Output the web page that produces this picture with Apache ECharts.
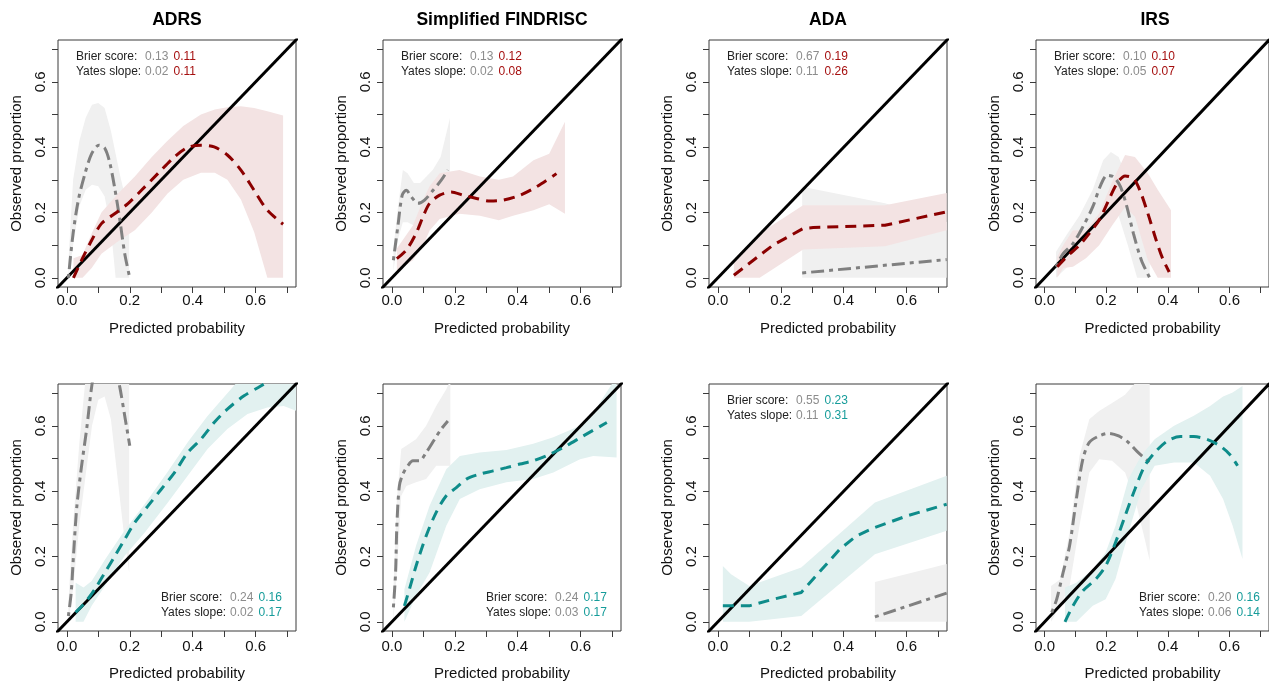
<!DOCTYPE html>
<html><head><meta charset="utf-8">
<script src="https://cdn.jsdelivr.net/npm/echarts@6/dist/echarts.min.js"></script>
<style>html,body{margin:0;padding:0;background:#fff}#c{width:1269px;height:685px}</style>
</head><body><div id="c"></div>
<script>
// ---------- data ----------
const panelTitles = ['ADRS', 'Simplified FINDRISC', 'ADA', 'IRS'];
const tickValues = [0, 0.1, 0.2, 0.3, 0.4, 0.5, 0.6, 0.7];
const labelValues = [0, 0.2, 0.4, 0.6];
const axisMin = -0.028, axisMax = 0.728;
const identityLine = [[-0.1, -0.1], [0.8, 0.8]];

const brierGray  = [0.13, 0.13, 0.67, 0.10, 0.24, 0.24, 0.55, 0.20];
const brierModel = [0.11, 0.12, 0.19, 0.10, 0.16, 0.17, 0.23, 0.16];
const yatesGray  = [0.02, 0.02, 0.11, 0.05, 0.02, 0.03, 0.11, 0.06];
const yatesModel = [0.11, 0.08, 0.26, 0.07, 0.17, 0.17, 0.31, 0.14];

// lines: [x, y]; bands: [x, lower, upper]
const p1GrayLine = [[0.005,0.0],[0.02,0.136],[0.037,0.24],[0.058,0.32],[0.079,0.38],[0.102,0.406],[0.121,0.396],[0.137,0.35],[0.153,0.27],[0.168,0.18],[0.184,0.074],[0.2,0.0]];
const p1GrayBand = [[0.005,0,0.05],[0.02,0.1,0.3],[0.04,0.22,0.42],[0.06,0.27,0.49],[0.08,0.285,0.53],[0.1,0.28,0.535],[0.12,0.25,0.52],[0.14,0.15,0.45],[0.155,0.0,0.38],[0.17,0,0.31],[0.185,0,0.25],[0.198,0,0.2]];
const p1ModelLine = [[0.021,0.0],[0.047,0.054],[0.079,0.115],[0.11,0.166],[0.153,0.197],[0.195,0.228],[0.237,0.268],[0.289,0.319],[0.342,0.37],[0.384,0.399],[0.426,0.406],[0.468,0.401],[0.51,0.376],[0.553,0.33],[0.595,0.268],[0.637,0.207],[0.687,0.164]];
const p1ModelBand = [[0.021,0,0.06],[0.05,0.0,0.07],[0.079,0.03,0.136],[0.11,0.074,0.2],[0.16,0.11,0.255],[0.216,0.146,0.31],[0.27,0.2,0.37],[0.32,0.258,0.42],[0.37,0.3,0.465],[0.426,0.322,0.5],[0.47,0.322,0.515],[0.51,0.3,0.522],[0.553,0.24,0.525],[0.595,0.14,0.52],[0.637,0.0,0.51],[0.687,0,0.497]];

const p2GrayLine = [[0.005,0.054],[0.019,0.156],[0.033,0.253],[0.046,0.268],[0.062,0.248],[0.083,0.228],[0.104,0.238],[0.131,0.268],[0.157,0.299],[0.178,0.33]];
const p2GrayBand = [[0.005,0.02,0.09],[0.02,0.12,0.22],[0.035,0.17,0.33],[0.05,0.17,0.32],[0.07,0.16,0.29],[0.09,0.17,0.29],[0.11,0.19,0.31],[0.13,0.21,0.33],[0.155,0.22,0.37],[0.185,0.2,0.49]];
const p2ModelLine = [[0.016,0.059],[0.046,0.085],[0.077,0.136],[0.099,0.187],[0.12,0.228],[0.152,0.253],[0.189,0.263],[0.226,0.253],[0.269,0.243],[0.311,0.235],[0.354,0.238],[0.407,0.253],[0.46,0.279],[0.523,0.319]];
const p2ModelBand = [[0.016,0.02,0.09],[0.067,0.054,0.16],[0.1,0.1,0.24],[0.12,0.145,0.28],[0.152,0.18,0.32],[0.215,0.196,0.33],[0.28,0.19,0.31],[0.34,0.176,0.3],[0.385,0.19,0.31],[0.45,0.207,0.36],[0.5,0.225,0.38],[0.55,0.196,0.478]];

const p3GrayLine = [[0.268,0.015],[0.727,0.056]];
const p3GrayBand = [[0.268,0,0.279],[0.531,0,0.228],[0.727,0,0.171]];
const p3ModelLine = [[0.051,0.008],[0.175,0.1],[0.271,0.151],[0.303,0.154],[0.531,0.161],[0.727,0.202]];
const p3ModelBand = [[0.051,0,0.054],[0.133,0,0.136],[0.271,0.087,0.222],[0.531,0.097,0.222],[0.727,0.146,0.26]];

const p4GrayLine = [[0.037,0.034],[0.06,0.074],[0.092,0.105],[0.124,0.156],[0.156,0.217],[0.182,0.284],[0.203,0.314],[0.224,0.309],[0.246,0.279],[0.267,0.217],[0.288,0.136],[0.314,0.054],[0.341,0.0]];
const p4GrayBand = [[0.037,0,0.08],[0.07,0.03,0.13],[0.113,0.065,0.19],[0.156,0.13,0.27],[0.19,0.19,0.36],[0.215,0.22,0.385],[0.24,0.19,0.37],[0.27,0.1,0.3],[0.3,0,0.2],[0.341,0,0.05]];
const p4ModelLine = [[0.041,0.034],[0.071,0.064],[0.113,0.1],[0.145,0.136],[0.177,0.177],[0.208,0.238],[0.235,0.289],[0.261,0.312],[0.288,0.304],[0.309,0.268],[0.335,0.197],[0.362,0.115],[0.383,0.059],[0.404,0.018]];
const p4ModelBand = [[0.041,0,0.064],[0.06,0.03,0.1],[0.092,0.034,0.146],[0.134,0.06,0.146],[0.177,0.1,0.197],[0.219,0.16,0.294],[0.261,0.217,0.376],[0.293,0.187,0.37],[0.335,0.054,0.32],[0.367,0,0.27],[0.41,0,0.207]];

const p5GrayLine = [[0.005,0.018],[0.014,0.09],[0.021,0.2],[0.032,0.355],[0.047,0.478],[0.063,0.59],[0.079,0.72],[0.1,0.84],[0.12,0.87],[0.14,0.84],[0.168,0.72],[0.184,0.63],[0.2,0.539]];
const p5GrayBand = [[0.005,0,0.06],[0.02,0.1,0.3],[0.04,0.3,0.55],[0.06,0.45,0.75],[0.08,0.6,0.95],[0.1,0.68,1],[0.12,0.69,1],[0.14,0.62,1],[0.16,0.45,1],[0.18,0.28,1],[0.198,0.15,1]];
const p5ModelLine = [[0.028,0.029],[0.058,0.059],[0.089,0.1],[0.121,0.151],[0.153,0.202],[0.184,0.253],[0.216,0.304],[0.258,0.355],[0.3,0.406],[0.342,0.457],[0.384,0.518],[0.426,0.559],[0.468,0.61],[0.51,0.651],[0.563,0.692],[0.616,0.722],[0.68,0.76],[0.73,0.78]];
const p5ModelBand = [[0.028,0,0.12],[0.053,0,0.105],[0.079,0.049,0.125],[0.121,0.11,0.19],[0.184,0.202,0.28],[0.247,0.273,0.36],[0.321,0.365,0.46],[0.384,0.447,0.55],[0.447,0.529,0.63],[0.51,0.59,0.7],[0.574,0.636,0.77],[0.637,0.656,0.82],[0.689,0.661,0.85],[0.729,0.646,0.87]];

const p6GrayLine = [[0.005,0.044],[0.012,0.151],[0.016,0.294],[0.024,0.416],[0.035,0.452],[0.051,0.478],[0.067,0.493],[0.088,0.493],[0.109,0.518],[0.136,0.559],[0.157,0.59],[0.178,0.615]];
const p6GrayBand = [[0.005,0,0.1],[0.016,0.15,0.376],[0.03,0.386,0.529],[0.046,0.416,0.539],[0.077,0.427,0.559],[0.109,0.437,0.6],[0.141,0.478,0.661],[0.173,0.478,0.712],[0.186,0.478,0.74]];
const p6ModelLine = [[0.04,0.049],[0.056,0.1],[0.077,0.171],[0.109,0.263],[0.141,0.335],[0.173,0.386],[0.205,0.411],[0.237,0.437],[0.279,0.452],[0.322,0.462],[0.364,0.472],[0.407,0.483],[0.449,0.493],[0.502,0.513],[0.555,0.539],[0.608,0.569],[0.683,0.61]];
const p6ModelBand = [[0.04,0,0.1],[0.077,0.08,0.233],[0.12,0.151,0.355],[0.173,0.294,0.467],[0.216,0.376,0.508],[0.279,0.406,0.518],[0.364,0.427,0.526],[0.449,0.437,0.545],[0.513,0.457,0.565],[0.598,0.498,0.6],[0.64,0.508,0.64],[0.714,0.503,0.75]];

const p7GrayLine = [[0.499,0.015],[0.727,0.088]];
const p7GrayBand = [[0.499,0,0.122],[0.727,0,0.177]];
const p7ModelLine = [[0.016,0.049],[0.1,0.049],[0.175,0.069],[0.265,0.09],[0.303,0.131],[0.387,0.222],[0.44,0.263],[0.499,0.289],[0.6,0.324],[0.727,0.36]];
const p7ModelBand = [[0.016,0,0.171],[0.042,0,0.146],[0.1,0,0.11],[0.265,0.018,0.166],[0.499,0.207,0.365],[0.727,0.279,0.447]];

const p8GrayLine = [[0.023,0.029],[0.039,0.069],[0.06,0.151],[0.081,0.233],[0.103,0.376],[0.124,0.498],[0.145,0.549],[0.177,0.569],[0.208,0.577],[0.24,0.569],[0.272,0.549],[0.304,0.518],[0.341,0.488]];
const p8GrayBand = [[0.021,0,0.11],[0.05,0.049,0.13],[0.081,0.11,0.273],[0.113,0.294,0.508],[0.145,0.457,0.62],[0.177,0.498,0.645],[0.219,0.493,0.67],[0.261,0.457,0.695],[0.293,0.376,0.73],[0.325,0.253,0.75],[0.341,0.187,0.76]];
const p8ModelLine = [[0.066,0],[0.092,0.049],[0.124,0.095],[0.166,0.131],[0.198,0.171],[0.23,0.243],[0.261,0.324],[0.293,0.406],[0.325,0.478],[0.357,0.518],[0.399,0.554],[0.441,0.567],[0.484,0.567],[0.526,0.559],[0.568,0.539],[0.6,0.513],[0.626,0.478]];
const p8ModelBand = [[0.066,0,0.105],[0.103,0,0.12],[0.156,0.049,0.16],[0.198,0.069,0.212],[0.23,0.131,0.294],[0.272,0.273,0.437],[0.314,0.406,0.51],[0.357,0.478,0.559],[0.42,0.488,0.6],[0.484,0.488,0.631],[0.537,0.447,0.661],[0.579,0.376,0.69],[0.61,0.294,0.702],[0.642,0.192,0.722]];

const panels = [
  [p1GrayLine, p1GrayBand, p1ModelLine, p1ModelBand],
  [p2GrayLine, p2GrayBand, p2ModelLine, p2ModelBand],
  [p3GrayLine, p3GrayBand, p3ModelLine, p3ModelBand],
  [p4GrayLine, p4GrayBand, p4ModelLine, p4ModelBand],
  [p5GrayLine, p5GrayBand, p5ModelLine, p5ModelBand],
  [p6GrayLine, p6GrayBand, p6ModelLine, p6ModelBand],
  [p7GrayLine, p7GrayBand, p7ModelLine, p7ModelBand],
  [p8GrayLine, p8GrayBand, p8ModelLine, p8ModelBand]
];

// ---------- layout & style ----------
const colLeft = [58, 383, 709, 1036];
const rowTop = [40, 384];
const boxW = 238, boxH = 247;
const font = '"Liberation Sans", Arial, Helvetica, sans-serif';
const red = '#8B0000', redText = '#A50F0F', redBand = '#F3E3E3';
const teal = '#0E8C8A', tealText = '#169C9A', tealBand = '#E2F1F0';
const gray = '#808080', grayText = '#8C8C8C', grayBand = '#F0F0F0';

const grids = [], xAxes = [], yAxes = [], series = [], graphics = [];

function bandSeries(band, gi, color) {
  return {
    type: 'custom', xAxisIndex: gi, yAxisIndex: gi, clip: true, silent: true, z: 1,
    data: band,
    encode: { x: 0, y: [1, 2] },
    renderItem: function (params, api) {
      if (params.dataIndex !== 0) return null;
      const up = band.map(d => api.coord([d[0], d[2]]));
      const lo = band.slice().reverse().map(d => api.coord([d[0], d[1]]));
      return { type: 'polygon', shape: { points: up.concat(lo) }, style: { fill: color } };
    }
  };
}

for (let i = 0; i < 8; i++) {
  const r = Math.floor(i / 4), c = i % 4;
  const left = colLeft[c], top = rowTop[r];
  const isTop = r === 0;
  const mColor = isTop ? red : teal, mText = isTop ? redText : tealText, mBand = isTop ? redBand : tealBand;
  const smooth = (c === 2) ? false : 0.3;

  grids.push({ left: left, top: top, width: boxW, height: boxH, show: true,
    borderColor: '#3a3a3a', borderWidth: 1, backgroundColor: 'transparent' });

  const common = {
    type: 'value', gridIndex: i, min: axisMin, max: axisMax,
    axisLine: { show: false, onZero: false },
    splitLine: { show: false },
    axisTick: { show: true, inside: false, length: 6, lineStyle: { color: '#3a3a3a', width: 1 }, customValues: tickValues },
    nameLocation: 'middle',
    nameTextStyle: { fontSize: 15, fontFamily: font, color: '#111' }
  };
  xAxes.push(Object.assign({}, common, {
    name: 'Predicted probability', nameGap: isTop ? 34 : 35,
    axisLabel: { customValues: labelValues, formatter: v => v.toFixed(1), color: '#111', fontSize: 15, fontFamily: font, margin: isTop ? 6 : 8 }
  }));
  yAxes.push(Object.assign({}, common, {
    name: 'Observed proportion', nameGap: 34,
    axisLabel: { customValues: labelValues, formatter: v => v.toFixed(1), color: '#111', fontSize: 15, fontFamily: font, margin: 10, rotate: 90 }
  }));

  const [gLine, gBand, mLine, mBandData] = panels[i];
  series.push(bandSeries(gBand, i, grayBand));
  series.push(bandSeries(mBandData, i, mBand));
  series.push({ type: 'line', xAxisIndex: i, yAxisIndex: i, data: identityLine, symbol: 'none',
    lineStyle: { color: '#000', width: 3 }, silent: true, z: 2, clip: true });
  series.push({ type: 'line', xAxisIndex: i, yAxisIndex: i, data: gLine, symbol: 'none', smooth: smooth,
    lineStyle: { color: gray, width: 3, type: [4, 5, 13, 5] }, silent: true, z: 3, clip: true });
  series.push({ type: 'line', xAxisIndex: i, yAxisIndex: i, data: mLine, symbol: 'none', smooth: smooth,
    lineStyle: { color: mColor, width: 3, type: [11, 7] }, silent: true, z: 4, clip: true });

  if (isTop) {
    graphics.push({ type: 'text', x: left + boxW / 2, y: 20.5,
      style: { text: panelTitles[c], font: 'bold 17.5px ' + font, fill: '#000', textAlign: 'center', textVerticalAlign: 'middle' } });
  }
  // annotation
  const annTopLeft = isTop || c === 2;
  const ax = annTopLeft ? left + 18 : left + 103;
  const ay = annTopLeft ? top + 16.7 : top + 213.7;
  const rich = { l: { width: 69, fill: '#222', font: '12px ' + font },
                 g: { width: 28.5, fill: grayText, font: '12px ' + font },
                 m: { fill: mText, font: '12px ' + font } };
  graphics.push({ type: 'text', x: ax, y: ay, z: 10,
    style: { text: '{l|Brier score:}{g|' + brierGray[i].toFixed(2) + '}{m|' + brierModel[i].toFixed(2) + '}',
      rich: rich, textVerticalAlign: 'middle', font: '12px ' + font } });
  graphics.push({ type: 'text', x: ax, y: ay + 14.5, z: 10,
    style: { text: '{l|Yates slope:}{g|' + yatesGray[i].toFixed(2) + '}{m|' + yatesModel[i].toFixed(2) + '}',
      rich: rich, textVerticalAlign: 'middle', font: '12px ' + font } });
}

const chart = echarts.init(document.getElementById('c'), null, { renderer: 'canvas' });
chart.setOption({
  animation: false,
  backgroundColor: '#fff',
  grid: grids, xAxis: xAxes, yAxis: yAxes, series: series, graphic: graphics
});
</script></body></html>
